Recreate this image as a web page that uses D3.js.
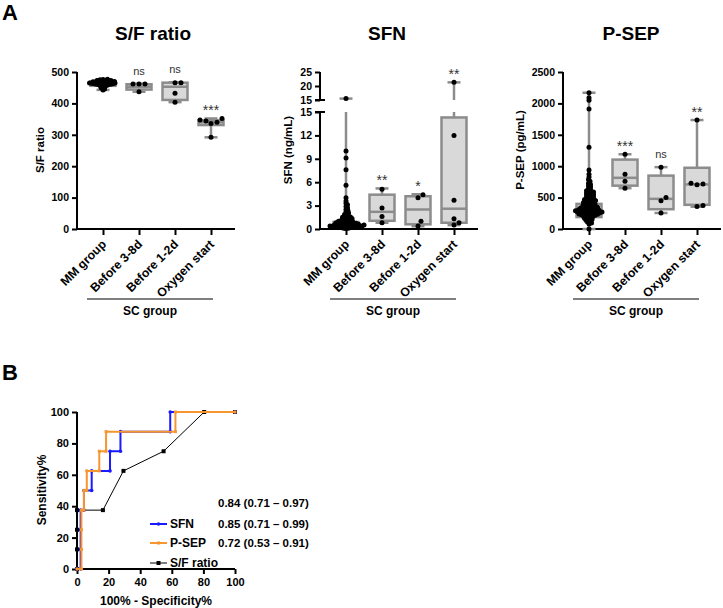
<!DOCTYPE html>
<html><head><meta charset="utf-8">
<script src="https://cdn.jsdelivr.net/npm/d3@7"></script>
<style>body{margin:0;background:#fff}svg{display:block}text{font-family:Arial,"Liberation Sans",sans-serif}</style>
</head><body><svg id="c" width="723" height="608"></svg>
<script>
// ---------- DATA ----------
const categories = ["MM group", "Before 3-8d", "Before 1-2d", "Oxygen start"];
const groupLabel = "SC group";

// S/F ratio
const sfTicks = [0, 100, 200, 300, 400, 500];
const sfMM = [477,476,475,474,473,473,472,472,471,471,470,470,470,469,469,468,468,468,467,467,466,466,466,465,465,465,464,464,464,463,463,463,462,462,462,461,461,460,460,459,459,458,457,456,455,454,452,450,448,446,443];
const sf38 = [462, 462, 462, 437];
const sf12 = [466, 466, 432, 404];
const sfOxy = [352, 347, 344, 340, 336, 292];
const sfBoxes = [
  {min: 443, q1: 456, med: 464, q3: 470, max: 477},
  {min: 437, q1: 444, med: 453, q3: 461, max: 463},
  {min: 404, q1: 411, med: 453, q3: 466, max: 467},
  {min: 292, q1: 331, med: 340, q3: 346, max: 352}
];
const sfSig = ["", "ns", "ns", "***"];

// SFN (broken axis)
const sfnTicksLow = [0, 3, 6, 9, 12, 15];
const sfnTicksHigh = [15, 20, 25];
const sfnMM = [15.5,10.0,9.1,7.6,5.6,4.0,3.6,3.3,3.1,2.9,2.7,2.5,2.35,2.2,2.05,1.95,1.85,1.75,1.65,1.55,1.5,1.45,1.4,1.35,1.3,1.25,1.2,1.15,1.1,1.05,1.0,1.0,0.95,0.9,0.9,0.85,0.85,0.8,0.8,0.75,0.75,0.7,0.7,0.7,0.65,0.65,0.6,0.6,0.6,0.55,0.55,0.5,0.5,0.5,0.5,0.45,0.45,0.45,0.4,0.4,0.4,0.4,0.35,0.35,0.35,0.3,0.3,0.3,0.3,0.25,0.25,0.25,0.2,0.2,0.2,0.15,0.15,0.1,0.1,0.05];
const sfn38 = [5.1, 2.7, 1.6, 0.8];
const sfn12 = [4.4, 4.0, 1.0, 0.4];
const sfnOxy = [21.3, 12.0, 3.7, 1.3, 0.8, 0.5];
const sfnBoxes = [
  {min: 0.05, q1: 0.25, med: 0.45, q3: 0.9, max: 15.5},
  {min: 0.8, q1: 1.05, med: 2.2, q3: 4.4, max: 5.2},
  {min: 0.35, q1: 0.6, med: 2.5, q3: 4.2, max: 4.45},
  {min: 0.5, q1: 0.8, med: 2.6, q3: 14.3, max: 21.3}
];
const sfnSig = ["", "**", "*", "**"];

// P-SEP
const psepTicks = [0, 500, 1000, 1500, 2000, 2500];
const psepMM = [2170,2090,2050,1910,1300,940,870,830,790,760,730,710,690,670,650,630,610,600,590,580,570,560,550,540,530,520,510,500,490,480,470,460,455,450,440,430,420,415,410,400,395,390,380,375,370,360,355,350,345,340,335,330,325,320,315,310,305,300,300,295,290,290,285,280,280,275,270,270,265,260,260,255,250,245,240,240,235,230,225,220,215,210,205,200,190,180,170,160,150,140,125,110,95,80,0];
const psep38 = [1190, 870, 760, 650];
const psep12 = [985, 500, 450, 255];
const psepOxy = [1735, 730, 715, 705, 375, 360];
const psepBoxes = [
  {min: 0, q1: 190, med: 280, q3: 400, max: 2170},
  {min: 650, q1: 690, med: 815, q3: 1105, max: 1190},
  {min: 255, q1: 315, med: 480, q3: 850, max: 985},
  {min: 355, q1: 385, med: 710, q3: 975, max: 1735}
];
const psepSig = ["", "***", "ns", "**"];

// ROC
const rocTicks = [0, 20, 40, 60, 80, 100];
const sfnFPR = [0, 2.3, 2.3, 2.3, 2.3, 4.4, 4.4, 9.3, 9.3, 20.9, 20.9, 27.5, 27.5, 59, 59, 100];
const sfnTPR = [0, 0, 12.5, 25, 37.5, 37.5, 50, 50, 62.5, 62.5, 75, 75, 87.5, 87.5, 100, 100];
const psepFPR = [0, 2.8, 2.8, 2.8, 2.8, 4.4, 4.4, 6.2, 6.2, 14.1, 14.1, 18.4, 18.4, 62.3, 62.3, 100];
const psepTPR = [0, 0, 12.5, 25, 37.5, 37.5, 50, 50, 62.5, 62.5, 75, 75, 87.5, 87.5, 100, 100];
const sfFPR = [0, 0, 0, 0, 16.4, 29.4, 54.8, 80.5, 100];
const sfTPR = [0, 12.5, 25, 37.5, 37.5, 62.5, 75, 100, 100];
const rocNames = ["SFN", "P-SEP", "S/F ratio"];
const aucTexts = ["0.84 (0.71 – 0.97)", "0.85 (0.71 – 0.99)", "0.72 (0.53 – 0.91)"];

// ---------- DRAW ----------
const svg = d3.select("#c");
const BOXF = "#d9d9d9", BOXS = "#8c8c8c";

svg.append("text").attr("x", 2).attr("y", 20).attr("font-size", 22).attr("font-weight", "bold").text("A");
svg.append("text").attr("x", 2).attr("y", 380).attr("font-size", 22).attr("font-weight", "bold").text("B");

function swarm(vals, yf, sep, step) {
  const pts = vals.map(v => ({v, y: yf(v)})).sort((a, b) => b.y - a.y);
  const placed = [];
  for (const p of pts) {
    let off = 0;
    for (let k = 0; k < 400; k++) {
      const c = k === 0 ? 0 : (k % 2 ? 1 : -1) * Math.ceil(k / 2) * step;
      if (placed.every(q => (q.dx - c) ** 2 + (q.y - p.y) ** 2 >= sep * sep)) { off = c; break; }
    }
    p.dx = off; placed.push(p);
  }
  return pts;
}

function boxPanel(cfg) {
  const g = svg.append("g");
  const x0 = cfg.x0, yB = 229;
  const x = d3.scalePoint().domain(categories).range([x0 + 26, x0 + 134]);
  const segs = cfg.segments.map(s => ({...s, sc: d3.scaleLinear().domain(s.domain).range(s.range)}));
  const yf = v => { for (const s of segs) if (v <= s.domain[1]) return s.sc(v); return segs[segs.length - 1].sc(v); };
  const vline = (cx, a, b) => {
    for (const s of segs) {
      const lo = Math.max(a, s.domain[0]), hi = Math.min(b, s.domain[1]);
      if (hi > lo) g.append("line").attr("x1", cx).attr("x2", cx).attr("y1", s.sc(lo)).attr("y2", s.sc(hi))
        .attr("stroke", BOXS).attr("stroke-width", 2.5);
    }
  };
  g.append("text").attr("x", cfg.titleX).attr("y", 40).attr("text-anchor", "middle")
    .attr("font-size", 19).attr("font-weight", "bold").text(cfg.title);
  segs.forEach((s, i) => {
    const ax = g.append("g").attr("transform", `translate(${x0},0)`)
      .call(d3.axisLeft(s.sc).tickValues(s.ticks).tickSize(5).tickPadding(3).tickFormat(d3.format("d")));
    ax.select(".domain").attr("stroke-width", 2).attr("d", `M0,${s.range[0]}V${s.range[1]}`);
    ax.selectAll(".tick line").attr("stroke-width", 2);
    ax.selectAll(".tick text").attr("font-size", 10.5).attr("font-weight", "bold").attr("font-family", null);
    if (segs.length > 1) {
      const yb = i === 0 ? s.range[1] : s.range[0];
      g.append("line").attr("x1", x0 - 5).attr("x2", x0 + 5).attr("y1", yb).attr("y2", yb).attr("stroke", "#000").attr("stroke-width", 2);
    }
  });
  g.append("text").attr("transform", `translate(${cfg.ytX},150) rotate(-90)`).attr("text-anchor", "middle")
    .attr("font-size", 11.5).attr("font-weight", "bold").text(cfg.ytitle);
  const xa = g.append("g").attr("transform", `translate(0,${yB})`)
    .call(d3.axisBottom(x).tickSize(6).tickFormat(""));
  xa.select(".domain").attr("stroke-width", 2).attr("d", `M${x0},0H${x0 + 158}`);
  xa.selectAll(".tick line").attr("stroke-width", 2);
  categories.forEach(c => {
    g.append("text").attr("transform", `translate(${x(c) + 4},${yB + 16}) rotate(-45)`)
      .attr("text-anchor", "end").attr("font-size", 12.3).attr("font-weight", "bold").text(c);
  });
  g.append("line").attr("x1", x(categories[0]) - 16).attr("x2", x(categories[3]) + 2)
    .attr("y1", 299).attr("y2", 299).attr("stroke", "#000").attr("stroke-width", 1.2);
  g.append("text").attr("x", (x(categories[0]) - 16 + x(categories[3]) + 2) / 2).attr("y", 315)
    .attr("text-anchor", "middle").attr("font-size", 12).attr("font-weight", "bold").text(groupLabel);
  cfg.boxes.forEach((b, i) => {
    const cx = x(categories[i]);
    vline(cx, b.min, b.q1); vline(cx, b.q3, b.max);
    [b.min, b.max].forEach(v => g.append("line").attr("x1", cx - 6.5).attr("x2", cx + 6.5)
      .attr("y1", yf(v)).attr("y2", yf(v)).attr("stroke", BOXS).attr("stroke-width", 2.5));
    g.append("rect").attr("x", cx - 12.5).attr("width", 25).attr("y", yf(b.q3)).attr("height", yf(b.q1) - yf(b.q3))
      .attr("fill", BOXF).attr("stroke", BOXS).attr("stroke-width", 2.5);
    g.append("line").attr("x1", cx - 12.5).attr("x2", cx + 12.5).attr("y1", yf(b.med)).attr("y2", yf(b.med))
      .attr("stroke", BOXS).attr("stroke-width", 2.5);
    const sig = cfg.sig[i];
    if (sig) {
      const star = sig !== "ns";
      g.append("text").attr("x", cx).attr("y", yf(b.max) - (star ? 3 : 9)).attr("text-anchor", "middle")
        .attr("font-size", star ? 14 : 11).attr("fill", "#333").text(sig);
    }
  });
  cfg.points.forEach((arr, i) => {
    const cx = x(categories[i]);
    const dense = arr.length > 20;
    swarm(arr, yf, dense ? cfg.denseSep : 5.5, dense ? 0.5 : 1).forEach(p => {
      g.append("circle").attr("cx", cx + p.dx).attr("cy", p.y).attr("r", 2.5).attr("fill", "#000");
    });
  });
}

boxPanel({x0: 77, title: "S/F ratio", titleX: 153, ytitle: "S/F ratio", ytX: 44,
  segments: [{domain: [0, 500], range: [229, 72], ticks: sfTicks}],
  boxes: sfBoxes, points: [sfMM, sf38, sf12, sfOxy], sig: sfSig, denseSep: 1.6});
boxPanel({x0: 320, title: "SFN", titleX: 387, ytitle: "SFN (ng/mL)", ytX: 292,
  segments: [{domain: [0, 15], range: [229, 112], ticks: sfnTicksLow}, {domain: [15, 25], range: [100, 72], ticks: sfnTicksHigh}],
  boxes: sfnBoxes, points: [sfnMM, sfn38, sfn12, sfnOxy], sig: sfnSig, denseSep: 2.0});
boxPanel({x0: 563, title: "P-SEP", titleX: 631, ytitle: "P-SEP (pg/mL)", ytX: 524,
  segments: [{domain: [0, 2500], range: [229, 72], ticks: psepTicks}],
  boxes: psepBoxes, points: [psepMM, psep38, psep12, psepOxy], sig: psepSig, denseSep: 2.3});

// ---------- ROC ----------
(function () {
  const g = svg.append("g");
  const x = d3.scaleLinear().domain([0, 100]).range([77, 235]);
  const y = d3.scaleLinear().domain([0, 100]).range([569, 412]);
  const ax = g.append("g").attr("transform", "translate(0,569)").call(d3.axisBottom(x).tickValues(rocTicks).tickSize(5).tickPadding(4));
  const ay = g.append("g").attr("transform", "translate(77,0)").call(d3.axisLeft(y).tickValues(rocTicks).tickSize(5).tickPadding(3));
  [ax, ay].forEach(a => {
    a.select(".domain").attr("stroke-width", 2);
    a.selectAll(".tick line").attr("stroke-width", 2);
    a.selectAll(".tick text").attr("font-size", 11).attr("font-weight", "bold").attr("font-family", null);
  });
  ax.select(".domain").attr("d", "M77,0H235");
  ay.select(".domain").attr("d", "M0,569V412");
  g.append("text").attr("x", 156).attr("y", 605).attr("text-anchor", "middle").attr("font-size", 12).attr("font-weight", "bold").text("100% - Specificity%");
  g.append("text").attr("transform", "translate(46,490) rotate(-90)").attr("text-anchor", "middle").attr("font-size", 12).attr("font-weight", "bold").text("Sensitivity%");

  const series = [
    {fx: sfFPR, ty: sfTPR, color: "#000", w: 1, mk: "sq", ms: 4},
    {fx: sfnFPR, ty: sfnTPR, color: "#1a1aff", w: 2, mk: "c", ms: 1.8},
    {fx: psepFPR, ty: psepTPR, color: "#f7962f", w: 2, mk: "sq", ms: 3}
  ];
  const line = d3.line().x(d => x(d[0])).y(d => y(d[1]));
  series.forEach(s => {
    const pts = s.fx.map((f, i) => [f, s.ty[i]]);
    g.append("path").attr("d", line(pts)).attr("fill", "none").attr("stroke", s.color).attr("stroke-width", s.w);
    pts.forEach(p => {
      if (s.mk === "c") g.append("circle").attr("cx", x(p[0])).attr("cy", y(p[1])).attr("r", s.ms).attr("fill", s.color);
      else g.append("rect").attr("x", x(p[0]) - s.ms / 2).attr("y", y(p[1]) - s.ms / 2).attr("width", s.ms).attr("height", s.ms).attr("fill", s.color);
    });
  });
  const leg = [
    {name: rocNames[0], color: "#1a1aff", w: 2, mk: "c", ms: 1.8, y: 524},
    {name: rocNames[1], color: "#f7962f", w: 2, mk: "sq", ms: 3, y: 543},
    {name: rocNames[2], color: "#000", w: 1, mk: "sq", ms: 4, y: 563}
  ];
  leg.forEach(l => {
    g.append("line").attr("x1", 150).attr("x2", 167).attr("y1", l.y).attr("y2", l.y).attr("stroke", l.color).attr("stroke-width", l.w);
    if (l.mk === "c") g.append("circle").attr("cx", 158.5).attr("cy", l.y).attr("r", l.ms).attr("fill", l.color);
    else g.append("rect").attr("x", 158.5 - l.ms / 2).attr("y", l.y - l.ms / 2).attr("width", l.ms).attr("height", l.ms).attr("fill", l.color);
    g.append("text").attr("x", 170).attr("y", l.y + 4).attr("font-size", 12).attr("font-weight", "bold").text(l.name);
  });
  [503, 524, 543].forEach((yy, i) => {
    g.append("text").attr("x", 218).attr("y", yy + 4).attr("font-size", 11.5).attr("font-weight", "bold").text(aucTexts[i]);
  });
})();
</script></body></html>
